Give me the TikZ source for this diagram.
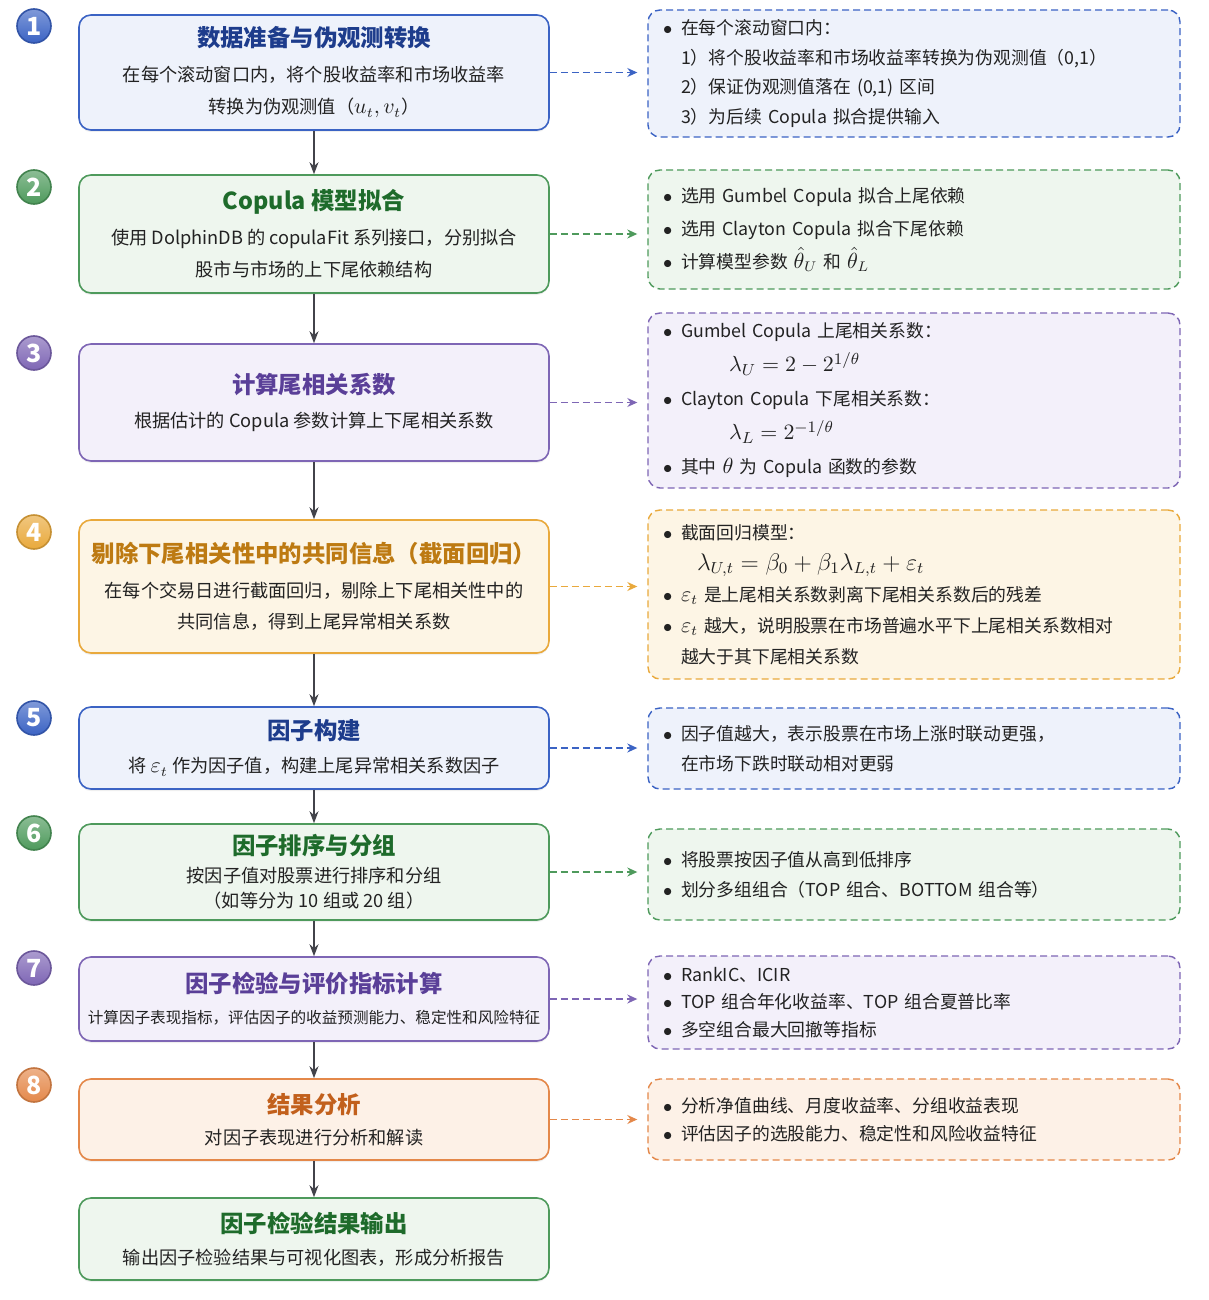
\documentclass[tikz,border=0pt]{standalone}
\usepackage[no-math]{fontspec}
\setmainfont{Noto Sans CJK SC}
\usepackage{amsmath}
\usetikzlibrary{arrows.meta,shadows}

\definecolor{bluD}{HTML}{3B63C4}\definecolor{bluF}{HTML}{EEF2FB}\definecolor{bluT}{HTML}{1D3C8C}
\definecolor{grnD}{HTML}{4E9A5C}\definecolor{grnF}{HTML}{EEF6EE}\definecolor{grnT}{HTML}{1E6B2B}
\definecolor{purD}{HTML}{7E66B5}\definecolor{purF}{HTML}{F3F0FA}\definecolor{purT}{HTML}{5A3F98}
\definecolor{gldD}{HTML}{E9A93C}\definecolor{gldF}{HTML}{FDF5E5}\definecolor{gldT}{HTML}{BD7A12}
\definecolor{orgD}{HTML}{E4884A}\definecolor{orgF}{HTML}{FDF1E7}\definecolor{orgT}{HTML}{C2601C}
\definecolor{flowgray}{HTML}{42434A}
\definecolor{ink}{HTML}{222222}

\newcommand\ttl[2]{{\fontsize{11.7}{14}\selectfont\bfseries\color{#1}#2}}
\newcommand\itm{\makebox[9pt][l]{$\bullet$}}
\newcommand\ind{\hspace*{9pt}}
\newcommand\mth[1]{{\fontsize{10.5}{10}\selectfont$#1$}}

\tikzset{
  stage/.style={draw=#1D, fill=#1F, line width=0.8pt, rounded corners=6pt,
    minimum width=235pt, align=center, text=ink,
    font=\fontsize{9.1}{16}\selectfont,
    drop shadow={opacity=0.12, shadow xshift=0pt, shadow yshift=-1pt}},
  note/.style={draw=#1D, fill=#1F, line width=0.7pt, dash pattern=on 3.5pt off 2pt,
    rounded corners=6pt, text width=251pt, inner xsep=7.5pt, align=left, text=ink,
    font=\fontsize{8.9}{14.8}\selectfont},
  num/.style={circle, minimum size=17pt, inner sep=0pt, draw=#1D!85!black, line width=0.8pt,
    top color=#1D!65!white, bottom color=#1D, text=white,
    font=\fontsize{12.5}{12.5}\selectfont\bfseries},
  flow/.style={draw=flowgray, line width=0.8pt, -{Stealth[length=6pt,width=4.5pt]}},
  link/.style={draw=#1D, line width=0.7pt, dash pattern=on 3.5pt off 2pt,
    -{Stealth[length=5pt,width=4.5pt]}, shorten >=5pt}
}

\begin{document}
\begin{tikzpicture}[x=0.5pt,y=-0.5pt]
\fill[white] (0,0) rectangle (1209,1300);

\node[stage=blu, minimum height=57.5pt] (prep) at (314,72.5)
  {\ttl{bluT}{数据准备与伪观测转换}\\[1.5pt] 在每个滚动窗口内，将个股收益率和市场收益率\\ 转换为伪观测值（\mth{u_t,v_t}）};
\node[stage=grn, minimum height=59pt] (fit) at (314,234)
  {\ttl{grnT}{Copula 模型拟合}\\[1.5pt] 使用 DolphinDB 的 copulaFit 系列接口，分别拟合\\ 股市与市场的上下尾依赖结构};
\node[stage=pur, minimum height=58.5pt] (tail) at (314,402.5)
  {\ttl{purT}{计算尾相关系数}\\[1pt] 根据估计的 Copula 参数计算上下尾相关系数};
\node[stage=gld, minimum height=66.5pt, font=\fontsize{9.1}{15.5}\selectfont] (resid) at (314,586.5)
  {\ttl{gldT}{剔除下尾相关性中的共同信息（截面回归）}\\[2pt] 在每个交易日进行截面回归，剔除上下尾相关性中的\\ 共同信息，得到上尾异常相关系数};
\node[stage=blu, minimum height=41pt] (build) at (314,748)
  {\ttl{bluT}{因子构建}\\[0.5pt] 将 \mth{\varepsilon_t} 作为因子值，构建上尾异常相关系数因子};
\node[stage=grn, minimum height=48pt, font=\fontsize{9.1}{12.5}\selectfont] (sort) at (314,872)
  {\ttl{grnT}{因子排序与分组}\\[1.5pt] 按因子值对股票进行排序和分组\\ （如等分为 10 组或 20 组）};
\node[stage=pur, minimum height=42pt, font=\fontsize{7.8}{15.5}\selectfont] (test) at (314,999)
  {\ttl{purT}{因子检验与评价指标计算}\\ 计算因子表现指标，评估因子的收益预测能力、稳定性和风险特征};
\node[stage=org, minimum height=40.5pt, font=\fontsize{9.1}{15.5}\selectfont] (ana) at (314,1119.5)
  {\ttl{orgT}{结果分析}\\ 对因子表现进行分析和解读};
\node[stage=grn, minimum height=41pt] (out) at (314,1239)
  {\ttl{grnT}{因子检验结果输出}\\ 输出因子检验结果与可视化图表，形成分析报告};

\node[num=blu] (n1) at (34,26) {1};
\node[num=grn] (n2) at (34,187) {2};
\node[num=pur] (n3) at (34,353) {3};
\node[num=gld] (n4) at (34,532) {4};
\node[num=blu] (n5) at (34,718) {5};
\node[num=grn] (n6) at (34,833) {6};
\node[num=pur] (n7) at (34,968) {7};
\node[num=org] (n8) at (34,1085) {8};

\node[note=blu, minimum height=63.5pt] (prepN) at (914,73.5)
  {\itm 在每个滚动窗口内：\\
   \ind 1）将个股收益率和市场收益率转换为伪观测值（0,1）\\
   \ind 2）保证伪观测值落在 (0,1) 区间\\
   \ind 3）为后续 Copula 拟合提供输入};
\node[note=grn, minimum height=59.5pt, font=\fontsize{8.9}{16.5}\selectfont] (fitN) at (914,229.5)
  {\itm 选用 Gumbel Copula 拟合上尾依赖\\
   \itm 选用 Clayton Copula 拟合下尾依赖\\
   \itm 计算模型参数 \mth{\hat\theta_U} 和 \mth{\hat\theta_L}};
\node[note=pur, minimum height=87.5pt, font=\fontsize{8.9}{17}\selectfont] (tailN) at (914,400.5)
  {\itm Gumbel Copula 上尾相关系数：\\
   \hspace*{33pt}{\fontsize{11}{13}\selectfont$\lambda_U = 2 - 2^{1/\theta}$}\\
   \itm Clayton Copula 下尾相关系数：\\
   \hspace*{33pt}{\fontsize{11}{13}\selectfont$\lambda_L = 2^{-1/\theta}$}\\
   \itm 其中 \mth{\theta} 为 Copula 函数的参数};
\node[note=gld, minimum height=84.5pt, font=\fontsize{8.9}{15.5}\selectfont] (residN) at (914,594.5)
  {\itm 截面回归模型：\\
   \hspace*{17pt}{\fontsize{12}{14}\selectfont$\lambda_{U,t} = \beta_0 + \beta_1\lambda_{L,t} + \varepsilon_t$}\\
   \itm \mth{\varepsilon_t} 是上尾相关系数剥离下尾相关系数后的残差\\
   \itm \mth{\varepsilon_t} 越大，说明股票在市场普遍水平下上尾相关系数相对\\
   \ind 越大于其下尾相关系数};
\node[note=blu, minimum height=40.5pt, font=\fontsize{8.9}{15}\selectfont] (buildN) at (914,748.5)
  {\itm 因子值越大，表示股票在市场上涨时联动更强，\\
   \ind 在市场下跌时联动相对更弱};
\node[note=grn, minimum height=45.5pt, font=\fontsize{8.9}{15}\selectfont] (sortN) at (914,874.5)
  {\itm 将股票按因子值从高到低排序\\
   \itm 划分多组组合（TOP 组合、BOTTOM 组合等）};
\node[note=pur, minimum height=46.5pt, font=\fontsize{8.9}{13.8}\selectfont] (testN) at (914,1002.5)
  {\itm RankIC、ICIR\\
   \itm TOP 组合年化收益率、TOP 组合夏普比率\\
   \itm 多空组合最大回撤等指标};
\node[note=org, minimum height=40.5pt, font=\fontsize{8.9}{14}\selectfont] (anaN) at (914,1119.5)
  {\itm 分析净值曲线、月度收益率、分组收益表现\\
   \itm 评估因子的选股能力、稳定性和风险收益特征};

\draw[flow] (prep) -- (fit);
\draw[flow] (fit) -- (tail);
\draw[flow] (tail) -- (resid);
\draw[flow] (resid) -- (build);
\draw[flow] (build) -- (sort);
\draw[flow] (sort) -- (test);
\draw[flow] (test) -- (ana);
\draw[flow] (ana) -- (out);

\draw[link=blu] (prep.east) -- (prep.east -| prepN.west);
\draw[link=grn] (fit.east) -- (fit.east -| fitN.west);
\draw[link=pur] (tail.east) -- (tail.east -| tailN.west);
\draw[link=gld] (resid.east) -- (resid.east -| residN.west);
\draw[link=blu] (build.east) -- (build.east -| buildN.west);
\draw[link=grn] (sort.east) -- (sort.east -| sortN.west);
\draw[link=pur] (test.east) -- (test.east -| testN.west);
\draw[link=org] (ana.east) -- (ana.east -| anaN.west);
\end{tikzpicture}
\end{document}
